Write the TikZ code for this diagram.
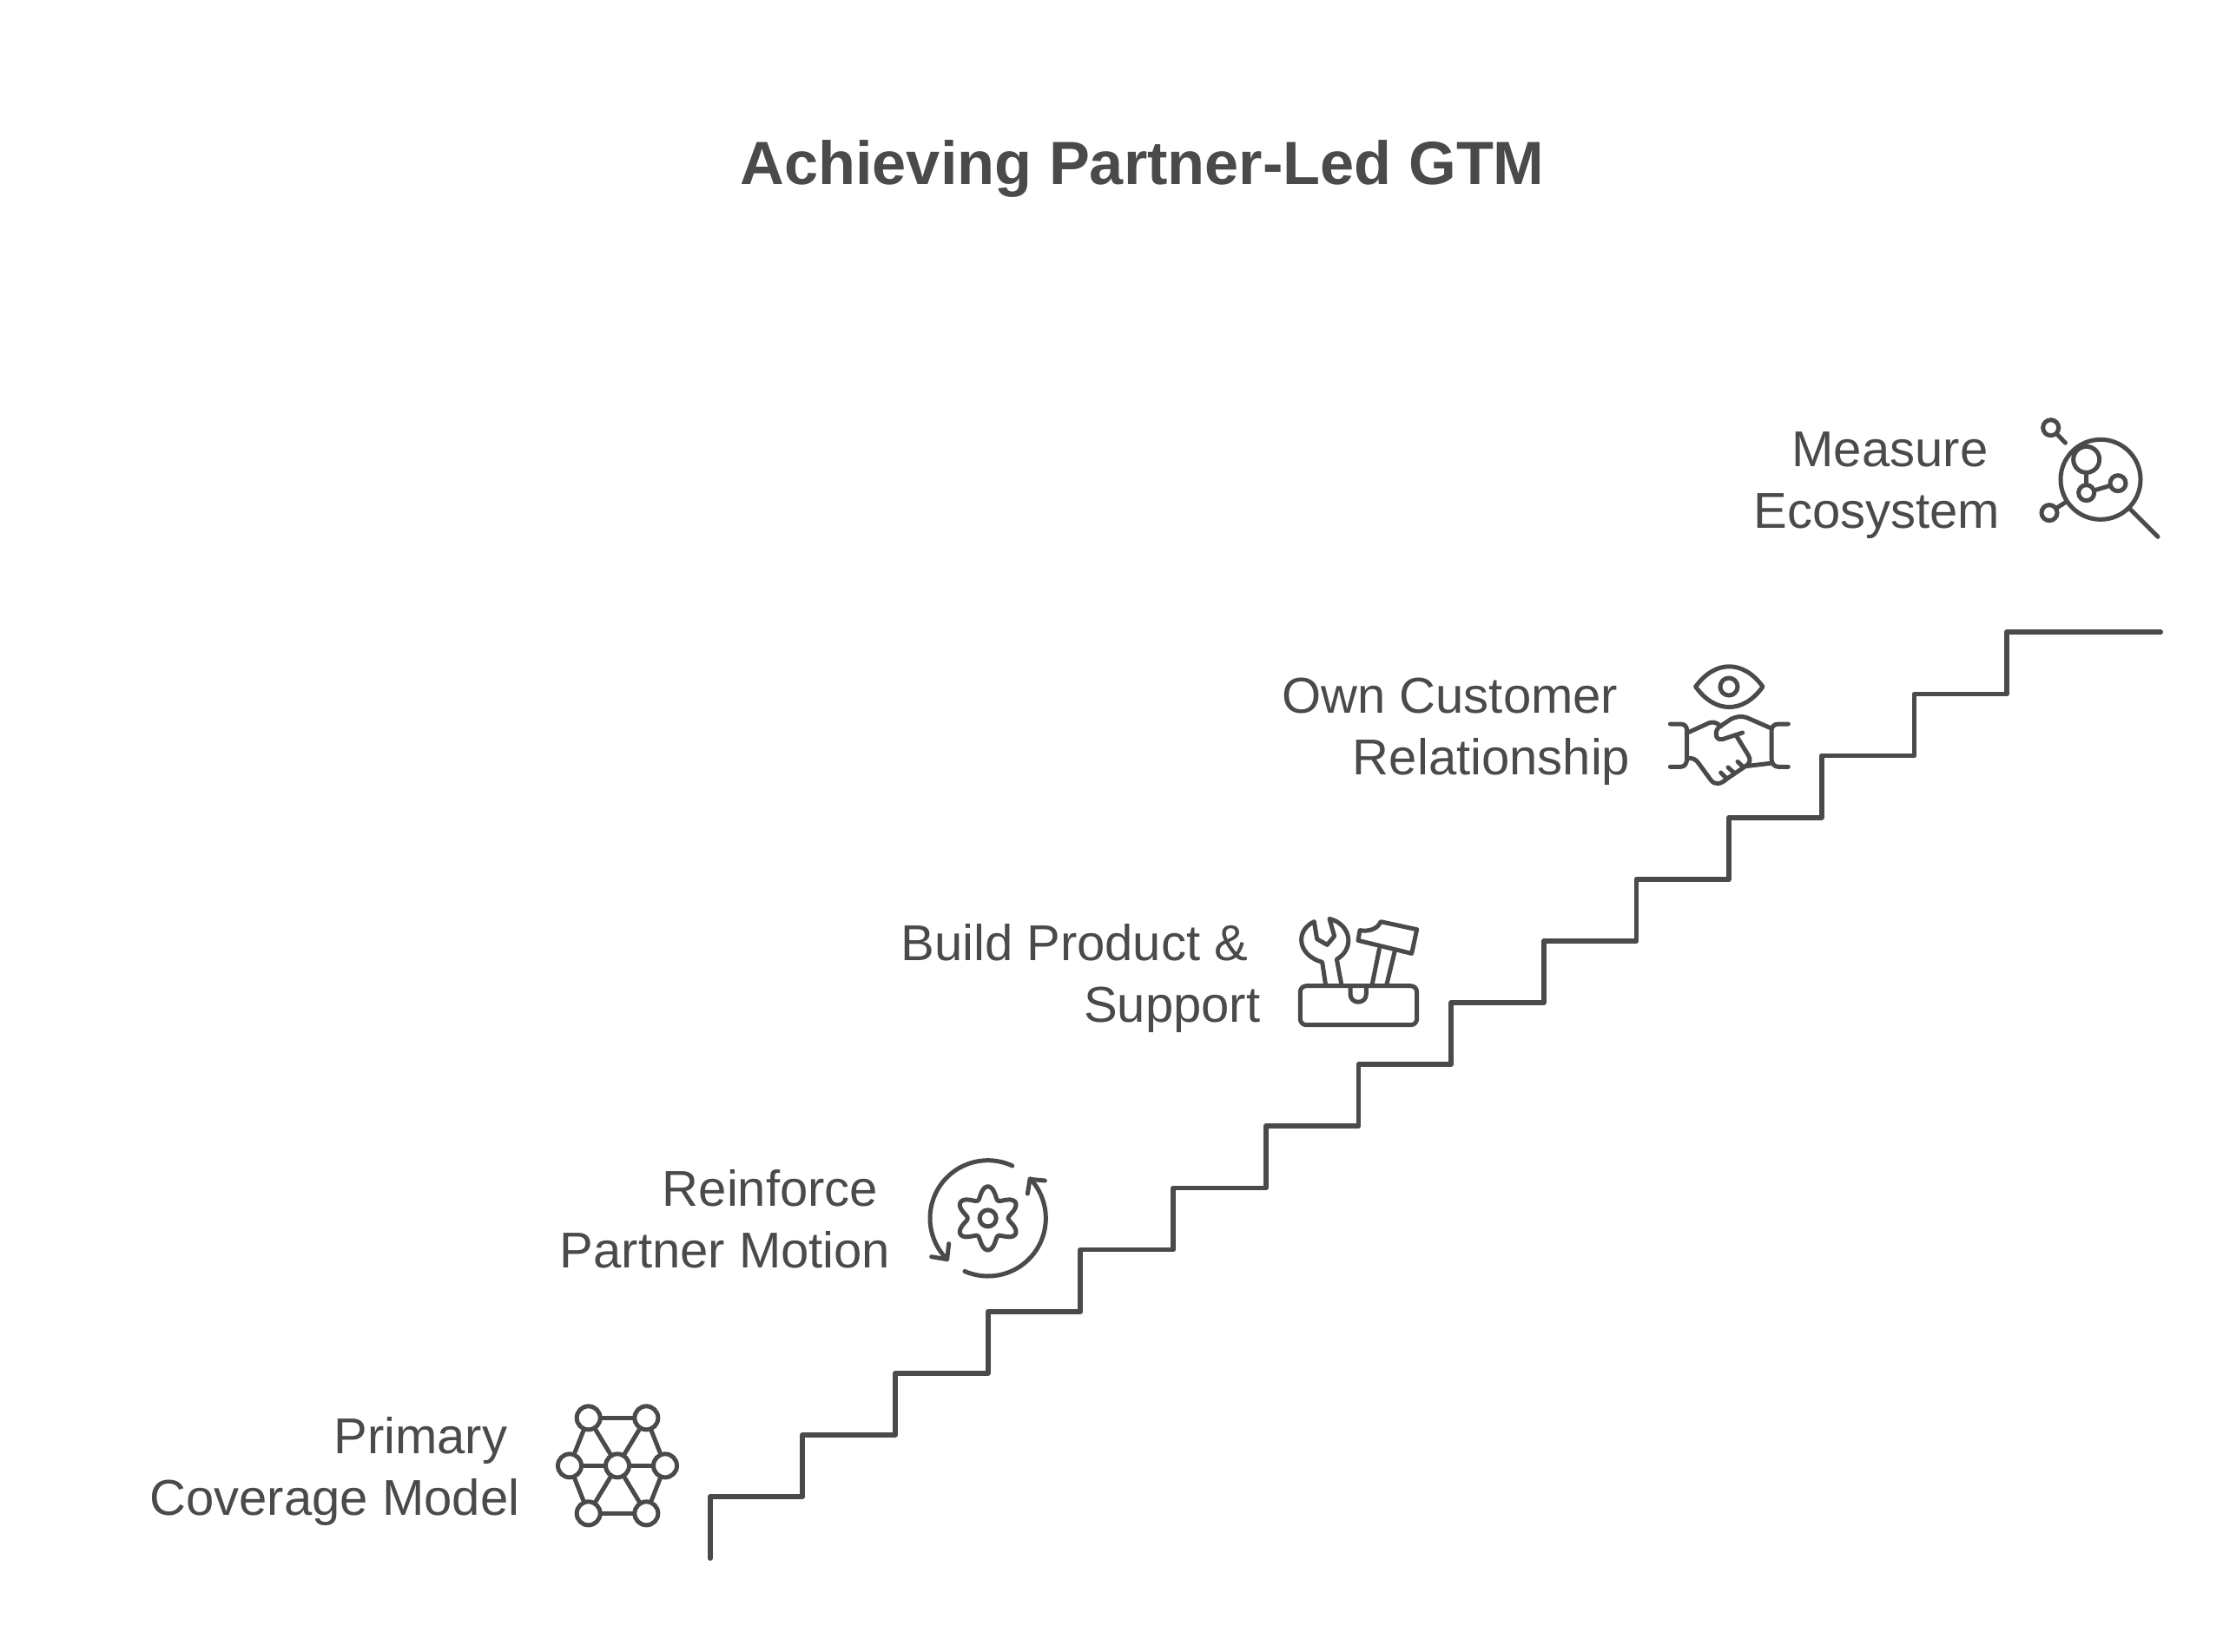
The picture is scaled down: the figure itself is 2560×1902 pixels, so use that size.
\documentclass[tikz,border=0pt]{standalone}
\usepackage{fontspec}
\setmainfont{Liberation Sans}
\usetikzlibrary{positioning}
\definecolor{inkgray}{RGB}{74,74,74}
\definecolor{textgray}{RGB}{74,74,74}
\tikzset{
    stairline/.style={draw=inkgray, line width=0.058cm, line join=round, line cap=round},
    iconline/.style={draw=inkgray, line width=0.05cm, line join=round, line cap=round},
    ring/.style={circle, draw=inkgray, line width=0.05cm, inner sep=0pt, minimum size=#1},
    steplabel/.style={anchor=east, align=right, inner sep=0pt, text=textgray, font=\fontsize{16.5}{20.1}\selectfont},
    toplabel/.style={anchor=base, inner sep=0pt, text=textgray, font=\fontsize{20}{24}\selectfont\bfseries},
}
\newcommand{\firstgap}{\hspace*{0.14cm}}

\begin{document}
\begin{tikzpicture}[x=0.01cm, y=-0.01cm]
\useasboundingbox (0,0) rectangle (2560,1902);

% Title
\node[toplabel] (title) at (1315.5,212.7) {Achieving Partner-Led GTM};

% Staircase
\draw[stairline] (817.7,1795) -- ++(0,-71) \foreach \i in {1,...,14} { -- ++(106.67,0) -- ++(0,-71.12) } -- ++(177,0);

% Step labels
\node[steplabel] (label1) at (599,1695) {Primary\firstgap\\Coverage Model};
\node[steplabel] (label2) at (1026,1404) {Reinforce\firstgap\\Partner Motion};
\node[steplabel] (label3) at (1452,1127) {Build Product \&\firstgap\\Support};
\node[steplabel] (label4) at (1878,843) {Own Customer\firstgap\\Relationship};
\node[steplabel] (label5) at (2304,559) {Measure\firstgap\\Ecosystem};

% Network icon
\begin{scope}[shift={(630,1610)}, scale=1/3]
\node[ring=0.27cm] (n1) at (143,70) {};
\node[ring=0.27cm] (n2) at (343,70) {};
\node[ring=0.27cm] (n3) at (78,235) {};
\node[ring=0.27cm] (n4) at (243,235) {};
\node[ring=0.27cm] (n5) at (408,235) {};
\node[ring=0.27cm] (n6) at (143,400) {};
\node[ring=0.27cm] (n7) at (343,400) {};
\foreach \a/\b in {n1/n2,n1/n3,n1/n4,n2/n4,n2/n5,n3/n4,n4/n5,n3/n6,n4/n6,n4/n7,n5/n7,n6/n7}
    \draw[iconline] (\a) -- (\b);
\end{scope}

% Gear icon
\begin{scope}[shift={(1050,1320)}, scale=1/3]
\draw[iconline] plot[domain=-65:-224.4, samples=50, variable=\t] ({263+200*cos(\t)},{250+200*sin(\t)});
\draw[iconline] plot[domain=113.7:-43, samples=50, variable=\t] ({263+200*cos(\t)},{250+200*sin(\t)});
\draw[iconline] (68,383) -- (122,392) -- (128,338);
\draw[iconline] (400,165) -- (408,115) -- (460,120);
\draw[iconline] plot[domain=0:360, samples=91, smooth, variable=\t] ({263+(90-20*cos(6*\t))*cos(\t)},{250+(90-20*cos(6*\t))*sin(\t)}) -- cycle;
\node[ring=0.19cm] (hub) at (263,250) {};
\end{scope}

% Toolbox icon
\begin{scope}[shift={(1480,1040)}, scale=1/3]
\draw[iconline, rounded corners=2pt] (52,287) rectangle (455,422);
\draw[iconline] (225,290) -- (225,315) .. controls (225,352) and (280,352) .. (280,315) -- (280,290);
\draw[iconline] (140,285) -- (128,205) .. controls (40,180) and (35,95) .. (100,65) -- (110,125) -- (145,145) -- (170,115) -- (153,55) .. controls (230,75) and (240,160) .. (178,195) -- (195,285);
\draw[iconline] (300,285) -- (325,160);
\draw[iconline] (350,285) -- (378,170);
\draw[iconline] (330,65) -- (455,92) -- (437,175) -- (252,130) -- (258,95) .. controls (290,100) and (320,90) .. cycle;
\end{scope}

% Handshake icon
\begin{scope}[shift={(1900,740)}, scale=1/3]
\draw[iconline] (158,153) .. controls (225,60) and (323,60) .. (390,153) .. controls (323,247) and (225,247) .. cycle;
\node[ring=0.2cm] (pupil) at (273,153) {};
\draw[iconline] (70,282) -- (105,282) .. controls (120,282) and (128,290) .. (128,305) -- (128,400) .. controls (128,420) and (120,430) .. (105,430) -- (70,430);
\draw[iconline] (478,282) -- (445,282) .. controls (430,282) and (420,290) .. (420,305) -- (420,400) .. controls (420,420) and (430,430) .. (445,430) -- (478,430);
\draw[iconline] (135,310) -- (205,278) .. controls (220,272) and (235,280) .. (245,290);
\draw[iconline] (415,295) -- (335,260) .. controls (315,252) and (295,258) .. (280,265) -- (240,292) .. controls (222,305) and (225,340) .. (250,335) -- (320,312);
\draw[iconline] (300,325) -- (340,390) .. controls (350,405) and (345,420) .. (330,428) -- (415,418);
\draw[iconline] (135,400) .. controls (150,400) and (160,405) .. (170,420) -- (210,475) .. controls (225,495) and (245,490) .. (265,472) -- (330,428);
\draw[iconline] (245,450) -- (265,470);
\draw[iconline] (270,432) -- (290,450);
\draw[iconline] (303,412) -- (322,430);
\end{scope}

% Magnifier icon
\begin{scope}[shift={(2300,460)}, scale=1/3]
\node[ring=0.92cm] (lens) at (357,277) {};
\node[ring=0.3cm] (inner1) at (308,208) {};
\node[ring=0.18cm] (inner2) at (308,323) {};
\node[ring=0.18cm] (inner3) at (417,290) {};
\node[ring=0.18cm] (outer1) at (185,98) {};
\node[ring=0.18cm] (outer2) at (180,392) {};
\coordinate (handle) at (555,475);
\draw[iconline] (inner1) -- (inner2);
\draw[iconline] (inner2) -- (inner3);
\draw[iconline, shorten >=0.1cm] (outer1) -- (lens);
\draw[iconline] (outer2) -- (lens);
\draw[iconline] (lens) -- (handle);
\end{scope}

\end{tikzpicture}
\end{document}
